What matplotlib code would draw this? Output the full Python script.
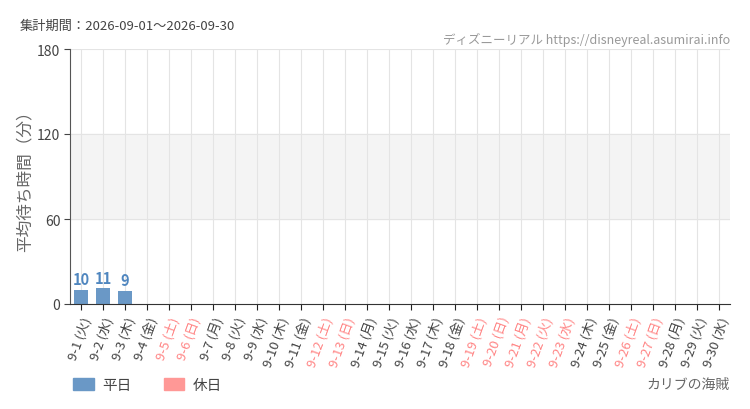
import numpy as np
import matplotlib.pyplot as plt
from matplotlib.patches import Patch

plt.rcParams['font.family'] = ['Noto Sans CJK JP', 'DejaVu Sans']

days = ['9-%d' % d for d in range(1, 31)]
weekdays = ['火', '水', '木', '金', '土', '日', '月'] * 5
weekdays = weekdays[:30]
holidays = [5, 6, 12, 13, 19, 20, 21, 22, 23, 26, 27]
waits = [10, 11, 9] + [0] * 27

blue = '#6a98c6'
pink = '#ff9896'
pink_text = '#ff8585'
grey = '#444444'

fig = plt.figure(figsize=(7.5, 4.1), dpi=100)
ax = fig.add_axes([70/750, 1 - 305/410, 660/750, 255/410])

x = np.arange(len(days))
is_hol = [(i + 1) in holidays for i in range(len(days))]
colors = [pink if h else blue for h in is_hol]

ax.axhspan(60, 120, color='#f4f4f4', zorder=0)
for yv in (60, 120, 180):
    ax.axhline(yv, color='#e4e4e4', lw=0.8, zorder=0.5)
for xi in x:
    ax.axvline(xi, color='#e4e4e4', lw=0.8, zorder=0.5)

bars = ax.bar(x, waits, width=0.68, color=colors, zorder=2)
for xi, v in zip(x, waits):
    if v > 0:
        ax.text(xi, v + 2, str(v), ha='center', va='bottom', color='#4f86bf',
                fontsize=10.5, fontweight='bold', fontstretch='condensed')

ax.set_xlim(-0.5, len(days) - 0.5)
ax.set_ylim(0, 180)
ax.set_yticks([0, 60, 120, 180])
ax.tick_params(axis='y', labelsize=10, colors=grey, length=4, pad=3)
ax.set_xticks(x)
labels = ['%s (%s)' % (d, w) for d, w in zip(days, weekdays)]
ax.set_xticklabels(labels, rotation=70, ha='right', rotation_mode='anchor',
                   fontsize=9.5)
for lab, h in zip(ax.get_xticklabels(), is_hol):
    lab.set_color(pink_text if h else grey)
ax.tick_params(axis='x', length=4, color='#222222')

for s in ('top', 'right'):
    ax.spines[s].set_visible(False)
ax.spines['left'].set_color('#555555')
ax.spines['bottom'].set_color('#333333')

ax.set_ylabel('平均待ち時間（分）', fontsize=12, color='#666666')
ax.yaxis.set_label_coords(-36/660, 0.5)

fig.text(20/750, 1 - 26/410, '集計期間：2026-09-01〜2026-09-30', fontsize=9.5,
         color=grey, va='center')
fig.text(730/750, 1 - 40/410, 'ディズニーリアル https://disneyreal.asumirai.info',
         fontsize=9, color='#999999', ha='right', va='center',
         fontstretch='condensed')

handles = [Patch(color=blue, label='平日'), Patch(color=pink, label='休日')]
fig.legend(handles=handles, loc='center left', bbox_to_anchor=(60/750, 1 - 386/410),
           ncol=2, frameon=False, fontsize=10.5, handlelength=1.4, handleheight=0.8,
           handletextpad=0.6, columnspacing=2.2, labelcolor=grey)
fig.text(730/750, 1 - 385/410, 'カリブの海賊', fontsize=10, color='#666666',
         ha='right', va='center')

fig.savefig('out.png', dpi=100)
